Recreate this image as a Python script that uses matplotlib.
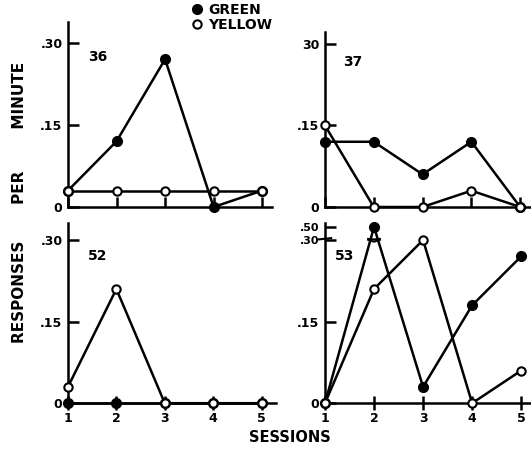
import numpy as np
import matplotlib
matplotlib.use('Agg')
import matplotlib.pyplot as plt
from matplotlib.lines import Line2D

plt.rcParams['font.family'] = ['DejaVu Sans']
plt.rcParams['font.weight'] = 'bold'

sessions = [1, 2, 3, 4, 5]

# responses per minute
green_36 = [0.03, 0.12, 0.27, 0.0, 0.03]
yellow_36 = [0.03, 0.03, 0.03, 0.03, 0.03]
green_37 = [0.12, 0.12, 0.06, 0.12, 0.0]
yellow_37 = [0.15, 0.0, 0.0, 0.03, 0.0]
green_52 = [0.0, 0.0, 0.0, 0.0, 0.0]
yellow_52 = [0.03, 0.21, 0.0, 0.0, 0.0]
green_53 = [0.0, 0.50, 0.03, 0.18, 0.27]
yellow_53 = [0.0, 0.21, 0.30, 0.0, 0.06]


# broken axis for panel 53: values above .30 are compressed
def fwd(y):
    y = np.asarray(y, dtype=float)
    return np.where(y <= 0.30, y, 0.30 + (y - 0.30) * 0.12)


def inv(y):
    y = np.asarray(y, dtype=float)
    return np.where(y <= 0.30, y, 0.30 + (y - 0.30) / 0.12)


fig = plt.figure(figsize=(5.31, 4.5), dpi=100)

panels = [
    # name, rect, xmax, ymax, green, yellow, bottom row, label pos
    ('36', [0.128, 0.540, 0.384, 0.411], 5.2, 0.338, green_36, yellow_36, False, (0.10, 0.81)),
    ('37', [0.612, 0.540, 0.386, 0.389], 5.2, 0.322, green_37, yellow_37, False, (0.09, 0.83)),
    ('52', [0.128, 0.104, 0.392, 0.400], 5.3, 0.331, green_52, yellow_52, True, (0.095, 0.82)),
    ('53', [0.612, 0.104, 0.388, 0.400], 5.2, 0.331, green_53, yellow_53, True, (0.05, 0.82)),
]

for name, rect, xmax, ymax, g, yv, bottom, lpos in panels:
    ax = fig.add_axes(rect)
    if name == '53':
        ax.set_yscale('function', functions=(fwd, inv))
        ax.set_ylim(0, float(inv(ymax)))
        ax.set_yticks([0, 0.15, 0.30, 0.50])
        ax.set_yticklabels(['0', '.15', '.30', '.50'])
    else:
        ax.set_ylim(0, ymax)
        ax.set_yticks([0, 0.15, 0.30])
        if name == '37':
            ax.set_yticklabels(['0', '.15', '30'])
        else:
            ax.set_yticklabels(['0', '.15', '.30'])
    ax.set_xlim(1, xmax)

    ax.plot(sessions, g, color='black', lw=1.8, marker='o', ms=7,
            mfc='black', mec='black', clip_on=False, zorder=3)
    ax.plot(sessions, yv, color='black', lw=1.8, marker='o', ms=6,
            mfc='white', mec='black', mew=1.5, clip_on=False, zorder=4)

    for s in ['top', 'right']:
        ax.spines[s].set_visible(False)
    for s in ['left', 'bottom']:
        ax.spines[s].set_linewidth(1.8)

    ax.set_xticks(sessions)
    if bottom:
        ax.tick_params(axis='x', direction='inout', length=10, width=1.8,
                       labelsize=9, pad=1)
    else:
        ax.tick_params(axis='x', direction='in', length=7, width=1.8,
                       labelbottom=False)
    ax.tick_params(axis='y', direction='in', length=8, width=1.8,
                   labelsize=9, pad=4)
    if name == '53':
        for lab in ax.get_yticklabels()[2:]:
            lab.set_fontsize(8)
    for lab in ax.get_xticklabels() + ax.get_yticklabels():
        lab.set_fontweight('bold')

    ax.text(lpos[0], lpos[1], name, transform=ax.transAxes, fontsize=10,
            fontweight='bold', ha='left', va='center')

    if name == '53':
        # break marks on the axis and on the green line near .30
        trans = ax.get_yaxis_transform()
        ax.plot([-0.03, 0.03], [0.31, 0.33], transform=trans,
                color='black', lw=1.5, clip_on=False)
        for dy in [0.0, 0.012]:
            ax.plot([1.88, 2.0, 2.12], [0.305 + dy, 0.297 + dy, 0.305 + dy],
                    color='black', lw=1.5, clip_on=False, zorder=5)

handles = [
    Line2D([], [], ls='none', marker='o', ms=7, mfc='black', mec='black'),
    Line2D([], [], ls='none', marker='o', ms=6, mfc='white', mec='black', mew=1.5),
]
fig.legend(handles, ['GREEN', 'YELLOW'], loc='upper left',
           bbox_to_anchor=(0.345, 1.015), frameon=False, handlelength=0.6,
           handletextpad=0.5, labelspacing=0.05, borderpad=0.2,
           prop={'size': 10, 'weight': 'bold'})

fig.text(0.036, 0.55, 'RESPONSES       PER        MINUTE', rotation=90,
         ha='center', va='center', fontsize=11, fontweight='bold')
fig.text(0.545, 0.028, 'SESSIONS', ha='center', va='center',
         fontsize=10.5, fontweight='bold')

fig.savefig('out.png', dpi=100)
